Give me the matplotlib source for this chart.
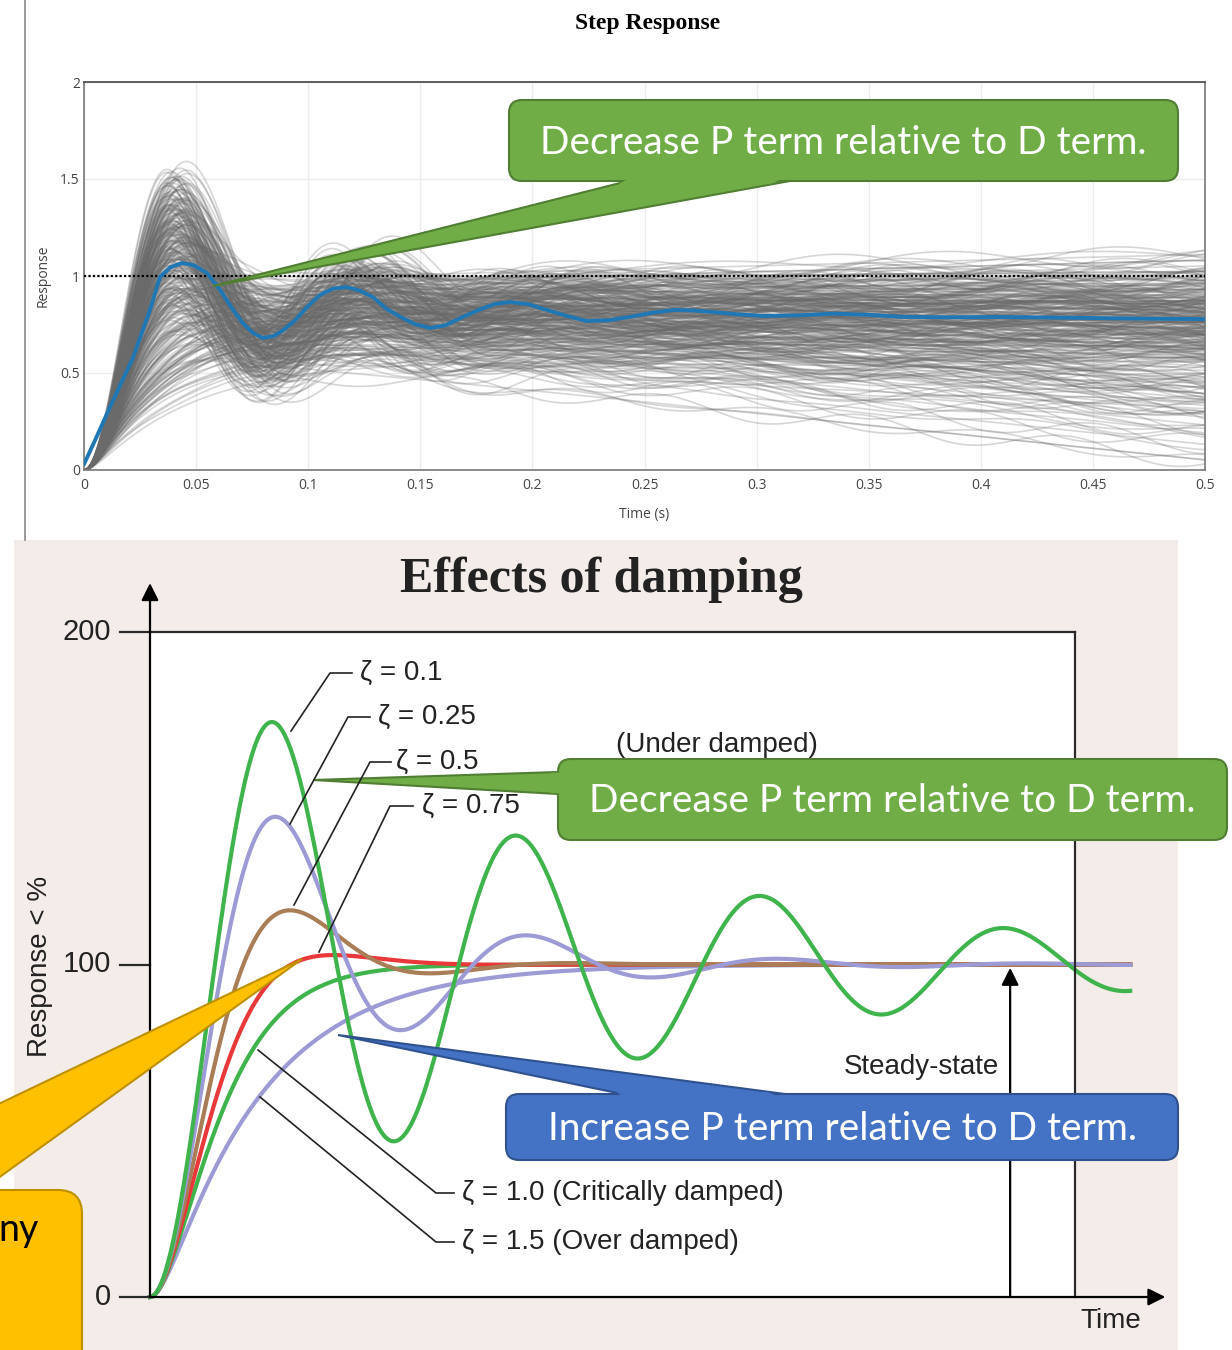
import numpy as np
import matplotlib
matplotlib.use("Agg")
import matplotlib.pyplot as plt
from matplotlib.patches import FancyBboxPatch, Polygon, Rectangle
from matplotlib import font_manager

W, H = 1232, 1350

# ---------------- upper chart: step-response ensemble ----------------
mean_t = [0.0, 0.005, 0.0116, 0.0219, 0.0294, 0.0339, 0.0385, 0.0437, 0.049,
          0.0549, 0.0607, 0.0665, 0.071, 0.0754, 0.0798, 0.0845, 0.0888, 0.094,
          0.0995, 0.105, 0.111, 0.117, 0.123, 0.129, 0.135, 0.141, 0.1475,
          0.1543, 0.161, 0.169, 0.176, 0.183, 0.190, 0.198, 0.2065, 0.215,
          0.2243, 0.234, 0.2435, 0.253, 0.263, 0.272, 0.2805, 0.292, 0.303,
          0.319, 0.334, 0.35, 0.364, 0.385, 0.4086, 0.43, 0.453, 0.475, 0.5]
mean_y = [0.03, 0.155, 0.325, 0.58, 0.825, 0.995, 1.045, 1.067, 1.055,
          1.015, 0.928, 0.825, 0.755, 0.706, 0.68, 0.69, 0.72, 0.77,
          0.84, 0.90, 0.935, 0.943, 0.925, 0.89, 0.83, 0.79, 0.752,
          0.732, 0.745, 0.789, 0.825, 0.855, 0.866, 0.855, 0.825, 0.795,
          0.768, 0.772, 0.789, 0.81, 0.825, 0.822, 0.814, 0.802, 0.794,
          0.797, 0.806, 0.80, 0.79, 0.787, 0.789, 0.786, 0.783, 0.78, 0.778]

# parameter pools the individual runs are drawn from (cycled deterministically)
run_gain = [0.58, 0.66, 0.72, 0.76, 0.8, 0.83, 0.86, 0.89, 0.92, 0.95, 0.98]
run_damping = [0.15, 0.17, 0.19, 0.21, 0.23, 0.26, 0.3, 0.35, 0.42, 0.55, 0.8, 1.2, 1.8]
run_wn = [70.0, 74.0, 78.0, 82.0, 86.0]
run_drift = [-1.2, -0.6, -0.3, -0.15, -0.05, 0.0, 0.1, 0.3]
run_wobble_amp = [0.0, 0.03, 0.05]
run_wobble_hz = [6.0, 8.0, 9.5, 11.0, 13.0, 7.0, 10.0]
run_wobble_phase = [0.0, 0.9, 1.8, 2.7, 3.6, 4.5, 5.4, 6.0, 1.3, 3.1, 4.9]
n_runs = 330

t_ticks = [0, 0.05, 0.1, 0.15, 0.2, 0.25, 0.3, 0.35, 0.4, 0.45, 0.5]
t_tick_labels = ["0", "0.05", "0.1", "0.15", "0.2", "0.25", "0.3", "0.35", "0.4", "0.45", "0.5"]
r_ticks = [0, 0.5, 1, 1.5, 2]
r_tick_labels = ["0", "0.5", "1", "1.5", "2"]
setpoint = 1.0

# ---------------- lower chart: effect of damping ratio ----------------
zeta_values = [1.5, 1.0, 0.75, 0.5, 0.25, 0.1]
zeta_colors = ["#9d9bd6", "#3fb44c", "#e8383a", "#a97d55", "#9d9bd6", "#3fb44c"]
pct_ticks = [0, 100, 200]
time_end = 25.39          # in units of 1/wn
time_box = 23.96


def second_order_step(zeta, wn, t):
    t = np.asarray(t, dtype=float)
    if zeta < 1:
        wd = wn * np.sqrt(1 - zeta ** 2)
        return 1 - np.exp(-zeta * wn * t) * (np.cos(wd * t) + zeta * wn / wd * np.sin(wd * t))
    if zeta == 1:
        return 1 - np.exp(-wn * t) * (1 + wn * t)
    r = np.sqrt(zeta ** 2 - 1)
    s1, s2 = -wn * (zeta - r), -wn * (zeta + r)
    return 1 - (s2 * np.exp(s1 * t) - s1 * np.exp(s2 * t)) / (s2 - s1)


avail = {f.name for f in font_manager.fontManager.ttflist}
narrow = [f for f in ["Liberation Sans Narrow", "Liberation Sans"] if f in avail]
narrow = narrow + ["DejaVu Sans"]

fig = plt.figure(figsize=(W / 100, H / 100), dpi=100)
fig.patch.set_facecolor("white")


def fx(x):
    return x / W


def fy(y):
    return 1 - y / H


# background layer
bg = fig.add_axes([0, 0, 1, 1], zorder=0)
bg.set_xlim(0, W)
bg.set_ylim(H, 0)
bg.axis("off")
bg.add_patch(Rectangle((14, 540), 1164, 820, facecolor="#f3ece9", edgecolor="none"))
bg.plot([25, 25], [0, 540], color="#8a8a8a", lw=1.2)

# ---- upper chart ----
ax1 = fig.add_axes([fx(84), fy(470), (1205 - 84) / W, (470 - 82) / H], zorder=1)
ax1.set_facecolor("white")
t_run = np.linspace(0, 0.5, 700)
ramp = t_run - 0.06 * (1 - np.exp(-t_run / 0.06))
env = 1 - np.exp(-t_run / 0.08)
for i in range(n_runs):
    g = run_gain[(i * 7 + 3) % len(run_gain)]
    z = run_damping[(i * 5 + 1) % len(run_damping)]
    wn = run_wn[(i * 3) % len(run_wn)]
    d = run_drift[(i * 3 + 2) % len(run_drift)]
    a = run_wobble_amp[i % len(run_wobble_amp)]
    hz = run_wobble_hz[(i * 2 + 1) % len(run_wobble_hz)]
    ph = run_wobble_phase[(i * 4) % len(run_wobble_phase)]
    y = g * second_order_step(z, wn, t_run) + d * ramp + a * np.sin(2 * np.pi * hz * t_run + ph) * env
    ax1.plot(t_run, y, color="#6a6a6a", alpha=0.27, lw=1.2, zorder=2)
ax1.axhline(setpoint, color="black", lw=1.6, ls=(0, (1, 1)), zorder=3)
ax1.plot(mean_t, mean_y, color="#1f77b4", lw=2.8, zorder=4, solid_capstyle="round")
ax1.set_xlim(0, 0.5)
ax1.set_ylim(0, 2)
ax1.set_xticks(t_ticks, t_tick_labels)
ax1.set_yticks(r_ticks, r_tick_labels)
ax1.grid(True, color="#ececec", lw=1.0, zorder=0)
ax1.set_axisbelow(True)
ax1.tick_params(length=0, labelsize=10, labelcolor="#444444", pad=6)
for lab in ax1.get_xticklabels() + ax1.get_yticklabels():
    lab.set_fontfamily("Open Sans")
ax1.tick_params(axis="y", pad=3)
for s in ax1.spines.values():
    s.set_color("#777777")
    s.set_linewidth(1.2)
ax1.spines["top"].set_color("#444444")
ax1.set_xlabel("Time (s)", fontsize=10, color="#444444", family="Open Sans", labelpad=10)
ax1.set_ylabel("Response", fontsize=10, color="#444444", family="Open Sans", labelpad=7)
fig.text(fx(648), fy(24), "Step Response", ha="center", va="center",
         fontsize=17, fontweight="bold", family="Liberation Serif")

# ---- lower chart ----
ax2 = fig.add_axes([fx(150), fy(1297), (1075 - 150) / W, (1297 - 632) / H], zorder=1)
ax2.set_facecolor("white")
ax2.set_xlim(0, time_box)
ax2.set_ylim(0, 200)
for s in ax2.spines.values():
    s.set_visible(False)
ax2.set_xticks([])
ax2.set_yticks([])
tt = np.linspace(0, time_end, 900)
for z, c in zip(zeta_values, zeta_colors):
    ax2.plot(tt, 100 * second_order_step(z, 1.0, tt), color=c, lw=3.0, clip_on=False, zorder=3)

axis_kw = dict(color="#2a2a2a", lw=1.6, clip_on=False, zorder=4)
ax2.plot([-0.777, time_box], [200, 200], **axis_kw)
ax2.plot([time_box, time_box], [0, 200], **axis_kw)
ax2.plot([-0.777, 0], [100, 100], **axis_kw)
ax2.plot([-0.777, 0], [0, 0], **axis_kw)
arrow = dict(arrowstyle="-|>", color="black", lw=1.6, mutation_scale=26, shrinkA=0, shrinkB=0)
ax2.annotate("", xy=(0, 214.7), xytext=(0, 0), arrowprops=arrow, annotation_clip=False, zorder=4)
ax2.annotate("", xy=(26.3, 0), xytext=(0, 0), arrowprops=arrow, annotation_clip=False, zorder=4)
ax2.annotate("", xy=(22.28, 99.0), xytext=(22.28, 0), arrowprops=arrow, annotation_clip=False, zorder=4)
for v in pct_ticks:
    ax2.text(-1.0, v, str(v), ha="right", va="center", fontsize=21, family=narrow, color="#222222")

fig.text(fx(601), fy(580), "Effects of damping", ha="center", va="center",
         fontsize=36, fontweight="bold", family="Liberation Serif", color="#222222")
fig.text(fx(40), fy(966), "Response < %", ha="center", va="center", rotation=90,
         fontsize=20, family=narrow, color="#222222")

# ---- annotation layer ----
ov = fig.add_axes([0, 0, 1, 1], zorder=5)
ov.set_xlim(0, W)
ov.set_ylim(H, 0)
ov.axis("off")
ov.patch.set_alpha(0)

lab_kw = dict(fontsize=20, family=narrow, color="#222222", va="center", ha="left")
leaders = [
    ([(291, 731), (330, 673), (352, 673)], "ζ = 0.1", (360, 673)),
    ([(290, 824), (348, 717), (370, 717)], "ζ = 0.25", (378, 717)),
    ([(294, 905), (370, 762), (391, 762)], "ζ = 0.5", (396, 762)),
    ([(319, 952), (390, 806), (413, 806)], "ζ = 0.75", (422, 806)),
    ([(258, 1050), (436, 1193), (454, 1193)], "ζ = 1.0 (Critically damped)", (462, 1193)),
    ([(260, 1097), (436, 1242), (454, 1242)], "ζ = 1.5 (Over damped)", (462, 1242)),
]
for pts, txt, pos in leaders:
    xs, ys = zip(*pts)
    ov.plot(xs, ys, color="#222222", lw=1.2)
    ov.text(pos[0], pos[1], txt, **lab_kw)
ov.text(717, 745, "(Under damped)", fontsize=20, family=narrow, color="#222222", ha="center", va="center")
ov.text(921, 1067, "Steady-state", fontsize=20, family=narrow, color="#222222", ha="center", va="center")
ov.text(1111, 1321, "Time", fontsize=20, family=narrow, color="#222222", ha="center", va="center")


def callout(box, base1, base2, tip, fc, ec, text=None, tcolor="white"):
    x0, y0, x1, y1 = box
    ov.add_patch(Polygon([tip, base1, base2], closed=True, facecolor=fc, edgecolor=ec, lw=1.5, zorder=1))
    ov.add_patch(FancyBboxPatch((x0, y0), x1 - x0, y1 - y0, boxstyle="round,pad=0,rounding_size=13",
                                facecolor=fc, edgecolor=ec, lw=1.5, zorder=2))
    # blend the wedge into the box
    b1, b2, tp = np.array(base1, float), np.array(base2, float), np.array(tip, float)
    cx, cy = (x0 + x1) / 2, (y0 + y1) / 2
    inward = np.array([cx, cy]) - (b1 + b2) / 2
    if abs(inward[0]) * (y1 - y0) > abs(inward[1]) * (x1 - x0):
        n = np.array([np.sign(inward[0]), 0.0])
    else:
        n = np.array([0.0, np.sign(inward[1])])
    p1 = b1 + 0.03 * (tp - b1)
    p2 = b2 + 0.03 * (tp - b2)
    p1, p2 = p1 + 0.02 * (p2 - p1), p2 + 0.02 * (p1 - p2)
    q1, q2 = b1 + 4 * n + 0.02 * (b2 - b1), b2 + 4 * n + 0.02 * (b1 - b2)
    ov.add_patch(Polygon([p1, p2, q2, q1], closed=True, facecolor=fc, edgecolor="none", zorder=3))
    if text:
        ov.text((x0 + x1) / 2, (y0 + y1) / 2 + 2, text, ha="center", va="center", fontsize=28,
                family="Lato", color=tcolor, zorder=4)


callout((509, 100, 1178, 181), (628, 181), (790, 181), (213, 286), "#70ad47", "#507e32",
        "Decrease P term relative to D term.")
callout((558, 759, 1227, 840), (558, 772), (558, 794), (313, 780), "#70ad47", "#507e32",
        "Decrease P term relative to D term.")
callout((506, 1094, 1178, 1160), (622, 1094), (785, 1094), (338, 1035), "#4472c4", "#2f528f",
        "Increase P term relative to D term.")

# yellow callout running off the left edge
ov.add_patch(Polygon([(302, 959), (-60, 1132), (-60, 1220)], closed=True,
                     facecolor="#ffc000", edgecolor="#bf9000", lw=1.5, zorder=1))
ov.add_patch(FancyBboxPatch((-60, 1190), 142, 200, boxstyle="round,pad=0,rounding_size=24",
                            facecolor="#ffc000", edgecolor="#bf9000", lw=1.5, zorder=2))
ov.text(-2, 1230, "ny", ha="left", va="center", fontsize=27, family="Lato", color="black", zorder=4)

fig.savefig("out.png", dpi=100)
